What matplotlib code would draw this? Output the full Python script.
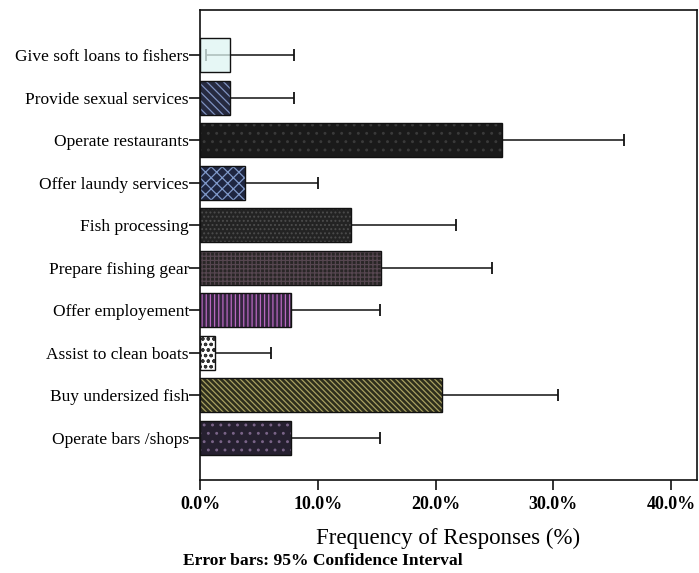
import matplotlib
matplotlib.use("Agg")
import matplotlib.pyplot as plt
import numpy as np

categories = ["Give soft loans to fishers", "Provide sexual services", "Operate restaurants",
              "Offer laundy services", "Fish processing", "Prepare fishing gear",
              "Offer employement", "Assist to clean boats", "Buy undersized fish",
              "Operate bars /shops"]
values = [2.56, 2.56, 25.64, 3.85, 12.82, 15.38, 7.69, 1.28, 20.51, 7.69]
ci_low = [0.55, 0.55, 16.8, 1.0, 6.2, 8.2, 2.9, 0.05, 12.2, 2.9]
ci_high = [8.0, 8.0, 36.0, 10.0, 21.7, 24.8, 15.3, 6.0, 30.4, 15.3]
xticks = [0, 10, 20, 30, 40]
xticklabels = ["0.0%", "10.0%", "20.0%", "30.0%", "40.0%"]

facecolors = [(0.87, 0.96, 0.95, 0.75), "#262a40", "#1a1a1a", "#1f2640", "#232323",
              "#292626", "#34263f", "#ffffff", "#2e2e1c", "#262030"]
hatchcolors = ["#dff4f2", "#7f92c0", "#3a3a3a", "#7f98c8", "#4c4c4c",
               "#564650", "#b868c0", "#333333", "#a8a060", "#7a6488"]
hatches = ["", "\\\\\\\\", "..", "xxx", "....", "++++", "||||", "ooo", "\\\\\\\\\\\\", ".."]

plt.rcParams["font.family"] = ["Liberation Serif", "DejaVu Serif"]
plt.rcParams["hatch.linewidth"] = 0.9

fig = plt.figure(figsize=(6.99, 5.73), dpi=100)
ax = fig.add_axes([200 / 699, 1 - 480 / 573, 497 / 699, 470 / 573])

y = np.arange(len(categories))
vals = np.array(values)
xerr = np.vstack([vals - np.array(ci_low), np.array(ci_high) - vals])
ax.errorbar(vals, y, xerr=xerr, fmt="none", ecolor="#111111", elinewidth=1.1,
            capsize=4, capthick=1.3, zorder=1)

bars = ax.barh(y, values, height=0.8, color=facecolors, edgecolor=hatchcolors,
               linewidth=0, zorder=2)
for b, h in zip(bars, hatches):
    b.set_hatch(h)
ax.barh(y, values, height=0.8, fill=False, edgecolor="#111111", linewidth=1.0, zorder=3)

ax.set_ylim(10.0, -1.06)
ax.set_xlim(0, 42.2)
ax.set_yticks(y)
ax.set_yticklabels(categories, fontsize=12.5)
ax.set_xticks(xticks)
ax.set_xticklabels(xticklabels, fontsize=13, fontweight="bold")
ax.tick_params(axis="y", length=8, width=1.2, pad=0, color="#111111")
ax.tick_params(axis="x", length=7, width=1.2, pad=4.5, color="#111111")
for s in ax.spines.values():
    s.set_linewidth(1.2)
    s.set_color("#111111")

ax.set_xlabel("Frequency of Responses (%)", fontsize=16.5, labelpad=11)
fig.text(183 / 699, 1 - 561 / 573, "Error bars: 95% Confidence Interval",
         fontsize=12.6, fontweight="bold", va="center", ha="left")

fig.savefig("out.png", dpi=100)
